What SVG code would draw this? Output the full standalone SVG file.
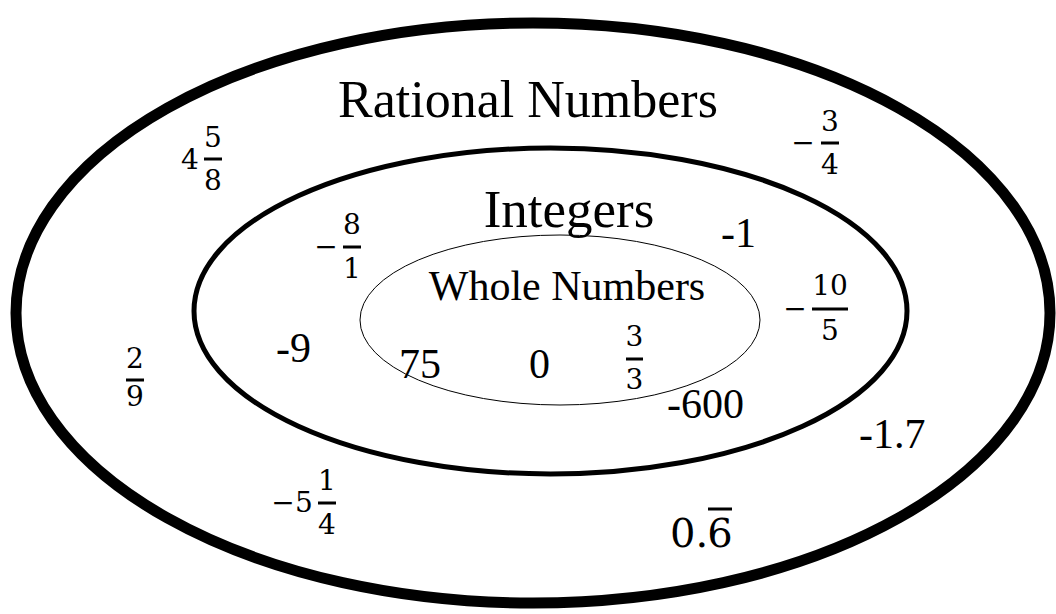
<svg xmlns="http://www.w3.org/2000/svg" width="1056" height="614" viewBox="0 0 1056 614">
<style>
.t{font-family:"Liberation Serif","Times New Roman",serif;fill:#000}
.n{font-size:42px}
.m{font-family:"DejaVu Serif",serif;fill:#000}
.f{font-size:28px;text-anchor:middle}
.bar{stroke:#000;stroke-width:3}
</style>
<rect width="1056" height="614" fill="#fff"/>
<g id="rational">
<ellipse cx="533" cy="313" rx="517" ry="290" fill="none" stroke="#000" stroke-width="11"/>
<text class="t" x="528" y="117" font-size="52" text-anchor="middle">Rational Numbers</text>
</g>
<g id="integers">
<ellipse cx="550.5" cy="311" rx="356.5" ry="163" fill="none" stroke="#000" stroke-width="5"/>
<text class="t" x="569" y="227" font-size="53" text-anchor="middle">Integers</text>
</g>
<g id="whole">
<ellipse cx="560" cy="320" rx="200" ry="85" fill="none" stroke="#000" stroke-width="1"/>
<text class="t" x="567" y="300" font-size="42" text-anchor="middle">Whole Numbers</text>
</g>
<g id="values">
<text class="t n" x="721" y="247">-1</text>
<text class="t n" x="276" y="362">-9</text>
<text class="t n" x="399" y="378">75</text>
<text class="t n" x="529" y="378">0</text>
<text class="t n" x="667" y="418">-600</text>
<text class="t n" x="859" y="448">-1.7</text>
<!-- 4 5/8 -->
<text class="m f" x="190" y="169">4</text>
<text class="m f" x="213" y="147">5</text>
<line class="bar" x1="204" y1="159" x2="222" y2="159"/>
<text class="m f" x="213" y="190">8</text>
<!-- -3/4 -->
<text class="m f" x="803" y="152">−</text>
<text class="m f" x="830" y="131">3</text>
<line class="bar" x1="821" y1="143" x2="839" y2="143"/>
<text class="m f" x="830" y="174">4</text>
<!-- -8/1 -->
<text class="m f" x="326" y="256">−</text>
<text class="m f" x="352" y="234">8</text>
<line class="bar" x1="343" y1="247" x2="361" y2="247"/>
<text class="m f" x="352" y="278">1</text>
<!-- -10/5 -->
<text class="m f" x="795" y="318">−</text>
<text class="m f" x="830" y="295">10</text>
<line class="bar" x1="812" y1="309" x2="848" y2="309"/>
<text class="m f" x="830" y="340">5</text>
<!-- 3/3 -->
<text class="m f" x="634.5" y="346">3</text>
<line class="bar" x1="626" y1="359" x2="643" y2="359"/>
<text class="m f" x="634.5" y="389">3</text>
<!-- 2/9 -->
<text class="m f" x="135" y="368">2</text>
<line class="bar" x1="126" y1="380" x2="144" y2="380"/>
<text class="m f" x="135" y="406">9</text>
<!-- -5 1/4 -->
<text class="m f" x="283" y="512">−</text>
<text class="m f" x="304" y="512">5</text>
<text class="m f" x="327" y="490">1</text>
<line class="bar" x1="318" y1="503" x2="336" y2="503"/>
<text class="m f" x="327" y="534">4</text>
<!-- 0.6 repeating -->
<text class="m" x="670" y="547" font-size="40">0.</text>
<text class="m" x="720" y="547" font-size="40" text-anchor="middle">6</text>
<line class="bar" x1="708" y1="509" x2="732" y2="509"/>
</g>
</svg>
